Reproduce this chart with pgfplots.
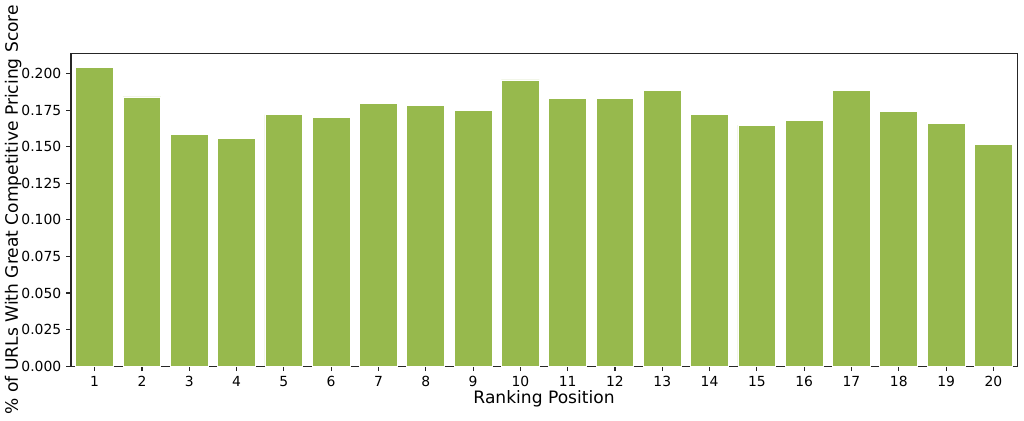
\documentclass[border=0pt]{standalone}
\usepackage{fontspec}
\setmainfont{DejaVu Sans}
\usepackage{pgfplots}
\pgfplotsset{compat=1.18}
\definecolor{barcol}{RGB}{151,185,77}

\begin{document}
\begin{tikzpicture}
\begin{axis}[
    scale only axis,
    width=681pt, height=225.4pt,
    xmin=-0.5, xmax=19.5,
    ymin=0, ymax=0.214,
    xtick={0,...,19},
    xticklabels={1,2,3,4,5,6,7,8,9,10,11,12,13,14,15,16,17,18,19,20},
    ytick={0,0.025,0.05,0.075,0.1,0.125,0.15,0.175,0.2},
    yticklabel style={/pgf/number format/fixed, /pgf/number format/fixed zerofill,
        /pgf/number format/precision=3},
    /pgf/number format/assume math mode=true,
    tick label style={font=\fontsize{10}{12}\selectfont},
    tick align=outside, major tick length=3.5pt,
    tick style={draw=black!85, line width=0.8pt},
    axis line style={black!85, line width=0.8pt},
    xtick pos=bottom, ytick pos=left,
    xlabel={Ranking Position},
    ylabel={\% of URLs With Great Competitive Pricing Score},
    label style={font=\fontsize{12.3}{14}\selectfont},
    xlabel style={at={(axis description cs:0.5,0)}, anchor=center, yshift=-23.5pt},
    ylabel style={at={(axis description cs:0,0.5)}, anchor=center, yshift=41.6pt},
    clip=false,
]
\coordinate (sw) at (rel axis cs:0,0);
\coordinate (ne) at (rel axis cs:1,1);
\addplot[ybar, bar width=0.8, fill=barcol, draw=white, line width=0.6pt] coordinates {
    (0,0.2040) (1,0.1840) (2,0.1581) (3,0.1559) (4,0.1720)
    (5,0.1702) (6,0.1795) (7,0.1781) (8,0.1745) (9,0.1956)
    (10,0.1827) (11,0.1827) (12,0.1883) (13,0.1722) (14,0.1647)
    (15,0.1681) (16,0.1883) (17,0.1738) (18,0.1656) (19,0.1513)
};
\end{axis}
\pgfresetboundingbox
\path (sw) ++(-51.1pt,-38.9pt) coordinate (a);
\path (ne) ++(5pt,38.2pt) coordinate (b);
\path[use as bounding box] (a) rectangle (b);
\end{tikzpicture}
\end{document}
